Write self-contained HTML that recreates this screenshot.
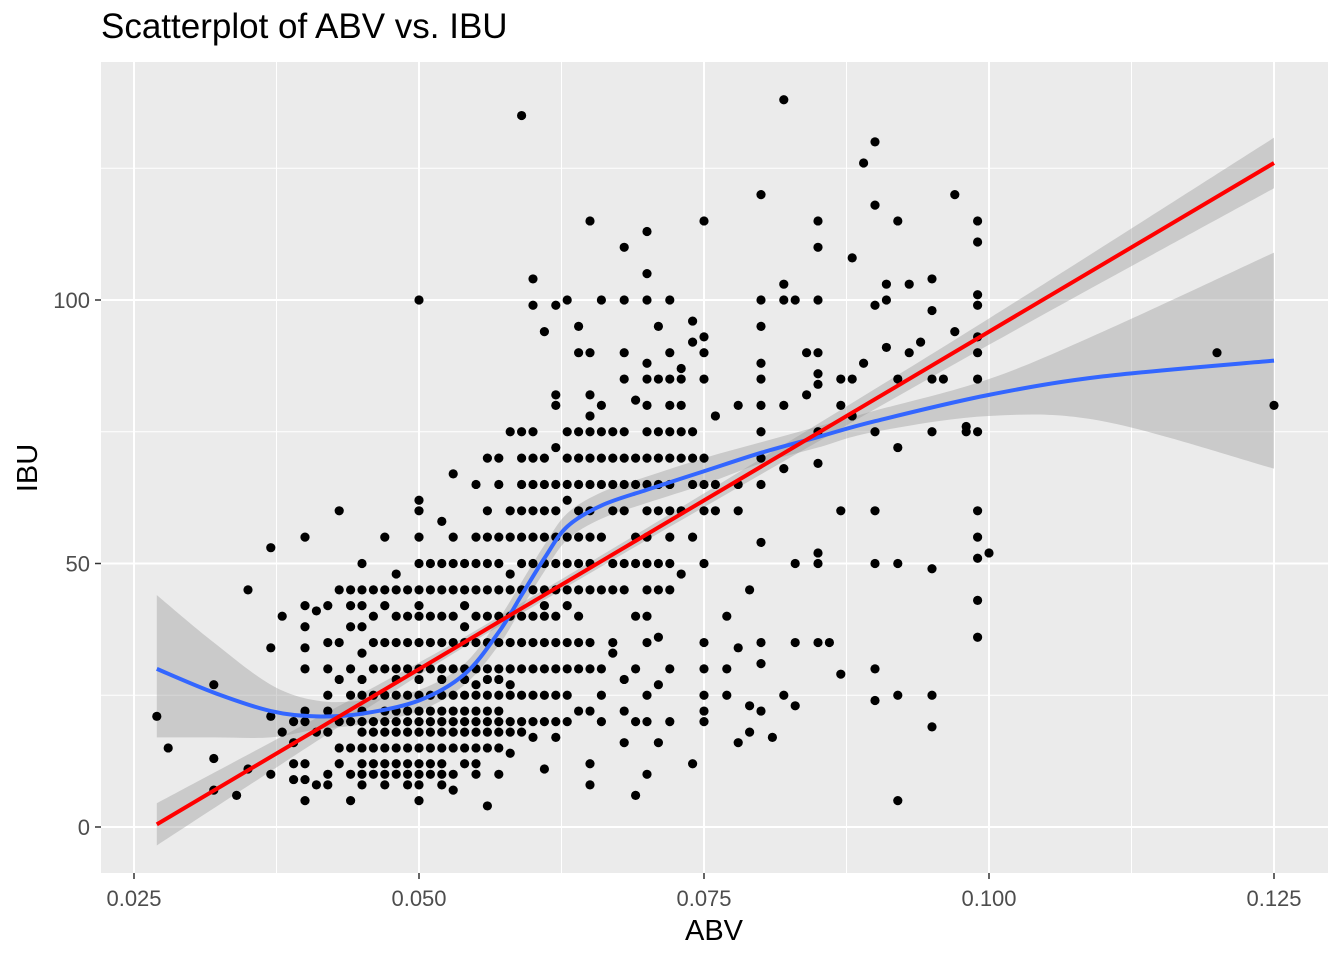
<!DOCTYPE html>
<html><head><meta charset="utf-8"><style>
body{margin:0;background:#fff;font-family:"Liberation Sans",Arial,sans-serif}
</style></head><body>
<svg id="chart" width="1344" height="960" xmlns="http://www.w3.org/2000/svg" font-family="Liberation Sans, Arial, sans-serif">
<rect width="1344" height="960" fill="#fff"/>
<text x="101" y="38" font-size="35" fill="#000">Scatterplot of ABV vs. IBU</text>
<rect x="101" y="62" width="1227" height="811" fill="#ebebeb"/>
<g id="grid"></g>
<g id="bands"></g>
<g id="points"></g>
<g id="lines"></g>
<g id="axes"></g>
<text x="714" y="940" font-size="29" text-anchor="middle">ABV</text>
<text transform="translate(37,468) rotate(-90)" font-size="29" text-anchor="middle">IBU</text>
</svg>
<script>
const xTicks=[0.025,0.05,0.075,0.1,0.125];
const xTickLabels=["0.025","0.050","0.075","0.100","0.125"];
const yTicks=[0,50,100];
const yTickLabels=["0","50","100"];
// columns: ABV in thousandths -> IBU values
const abvCols=[27,28,32,34,35,37,38,39,40,41,42,43,44,45,46,47,48,49,50,51,52,53,54,55,56,57,58,59,60,61,62,63,64,65,66,67,68,69,70,71,72,73,74,75,76,77,78,79,80,81,82,83,84,85,86,87,88,89,90,91,92,93,94,95,96,97,98,99,100,120,125];
const ibuCols=[
[21],[15],[27,13,7],[6],[45,11],[53,34,21,10],[40,18],[20,16,9,12],
[55,42,38,34,30,22,20,12,9,5],[41,18,8],[42,35,30,25,22,18,10,8],[60,45,35,28,20,15,12],
[45,42,38,30,25,20,15,10,5],[50,45,42,38,33,28,25,22,20,18,15,12,10,8],[45,40,35,30,25,20,18,15,12,10],
[55,45,42,35,30,25,22,20,18,15,12,10,8],[48,45,40,35,30,28,25,22,20,18,15,12,10],[45,40,35,30,25,22,20,18,15,12,10,8],
[100,62,60,55,50,45,42,40,35,30,28,25,22,20,18,15,12,10,8,5],[50,45,40,35,30,25,22,20,18,15,12,10],
[58,50,45,40,35,30,28,25,22,20,18,15,12,10,8],[67,55,50,45,40,35,30,25,22,20,18,15,10,7],
[50,45,42,38,35,30,28,25,22,20,18,15,12],[65,55,50,45,40,35,30,27,25,22,20,18,15,12,10],
[70,60,55,50,45,40,35,30,28,25,22,20,18,15,4],[70,65,55,50,45,40,35,30,28,25,22,20,18,15,10],
[75,60,55,48,45,40,35,30,27,25,20,18,14],[135,75,70,65,60,55,50,45,40,35,30,25,20,18],
[104,99,75,70,65,60,55,50,45,40,35,30,25,20,17],[94,70,65,60,55,50,45,42,40,35,30,25,20,11],
[99,82,80,72,65,60,55,50,45,40,35,30,25,20,17],[100,75,70,65,62,55,50,45,42,35,30,25,20],
[95,90,75,70,65,60,55,50,45,40,35,30,22],[115,90,82,78,75,70,65,60,55,50,45,35,30,22,12,8],
[100,80,75,70,65,55,45,30,25,20],[75,70,65,60,50,45,35,33],[110,100,90,85,75,70,65,60,50,45,28,22,16],
[81,70,65,55,50,40,30,20,6],[113,105,100,88,85,80,75,70,65,60,55,50,45,40,35,25,20,10],
[95,85,75,70,65,60,50,45,36,27,16],[100,90,85,80,75,70,65,60,55,50,45,30,20],[87,85,80,75,70,60,48],
[96,92,75,70,65,55,12],[115,93,90,85,70,65,60,50,35,30,25,22,20],[78,65,60],[40,30,25],[80,65,60,34,16],
[45,23,18],[120,100,95,88,85,80,75,70,65,54,35,31,22],[17],[138,103,100,80,68,25],[100,50,35,23],[90,82],
[115,110,100,90,86,84,75,69,52,50,35],[35],[85,80,60,29],[108,85,78],[126,88],[130,118,99,75,60,50,30,24],
[103,100,91],[115,85,72,50,25,5],[103,90],[92],[104,98,85,75,49,25,19],[85],[120,94],[76,75],
[115,111,101,99,93,90,85,75,60,55,51,43,36],[52],[90],[80]];
const loessX=[0.027,0.032,0.037,0.041,0.045,0.05,0.054,0.057,0.059,0.061,0.063,0.066,0.07,0.075,0.08,0.085,0.09,0.1,0.11,0.125];
const loessY=[30,25.5,22,21,21.5,24,29,37,44,51,57,61,64,67.5,71,74,77,82,85.5,88.5];
const loessHi=[44,35,27,24,24,26,31,39.5,46.5,53.5,59.5,63.5,66.5,70,73,76,79,85,94,109];
const loessLo=[17,17,17,18.5,19.5,22,27,34.5,41.5,48.5,54.5,58.5,61.5,65,69,72,75,78,77,68];
const linX=[0.027,0.05,0.06,0.075,0.1,0.125];
const linY=[0.5,30,42.8,62,94,126];
const linHi=[4.5,31.2,43.8,63.3,96.5,130.8];
const linLo=[-3.5,28.8,41.8,60.7,91.5,121.2];

const X=v=>134+(v-0.025)*11400;
const Y=v=>827-v*5.27;
const NS="http://www.w3.org/2000/svg";
function mk(tag,attrs,parent){const e=document.createElementNS(NS,tag);for(const k in attrs)e.setAttribute(k,attrs[k]);parent.appendChild(e);return e;}
const grid=document.getElementById('grid');
for(let i=0;i<xTicks.length;i++){
 const x=X(xTicks[i]);
 const g=mk('line',{x1:x,x2:x,y1:62,y2:873,stroke:'#fff','stroke-width':2},grid);
 
 if(i<xTicks.length-1){const xm=X(xTicks[i]+0.0125);
 const m=mk('line',{x1:xm,x2:xm,y1:62,y2:873,stroke:'#fff','stroke-width':1},grid);
 }
}
[-25,25,75,125].forEach(v=>{const y=Y(v);if(y<62||y>873)return;
 const m=mk('line',{x1:101,x2:1328,y1:y,y2:y,stroke:'#fff','stroke-width':1},grid);
 });
yTicks.forEach(v=>{const y=Y(v);
 const g=mk('line',{x1:101,x2:1328,y1:y,y2:y,stroke:'#fff','stroke-width':2},grid);
 });
const axes=document.getElementById('axes');
xTicks.forEach((v,i)=>{const x=X(v);
 const t=mk('line',{x1:x,x2:x,y1:873,y2:879,stroke:'#333','stroke-width':1.5},axes);
 
 const l=mk('text',{x:x,y:906,'font-size':22,fill:'#4d4d4d','text-anchor':'middle'},axes);l.textContent=xTickLabels[i];
 });
yTicks.forEach((v,i)=>{const y=Y(v);
 const t=mk('line',{x1:95,x2:101,y1:y,y2:y,stroke:'#333','stroke-width':1.5},axes);
 
 const l=mk('text',{x:90,y:y+8,'font-size':22,fill:'#4d4d4d','text-anchor':'end'},axes);l.textContent=yTickLabels[i];
 });
function smoothPts(P){let d='';
 for(let i=0;i<P.length-1;i++){const p0=P[i-1]||P[i],p1=P[i],p2=P[i+1],p3=P[i+2]||P[i+1];
 d+=` C${p1[0]+(p2[0]-p0[0])/6},${p1[1]+(p2[1]-p0[1])/6} ${p2[0]-(p3[0]-p1[0])/6},${p2[1]-(p3[1]-p1[1])/6} ${p2[0]},${p2[1]}`;}
 return d;}
function band(xs,hi,lo,name){
 const top=xs.map((x,i)=>[X(x),Y(hi[i])]);
 const bot=xs.map((x,i)=>[X(x),Y(lo[i])]).reverse();
 let d='M'+top[0].join(',')+smoothPts(top)+' L'+bot[0].join(',')+smoothPts(bot)+' Z';
 const p=mk('path',{d:d,fill:'#999','fill-opacity':0.4},document.getElementById('bands'));
 }
function smooth(xs,ys){const P=xs.map((x,i)=>[X(x),Y(ys[i])]);return 'M'+P[0].join(',')+smoothPts(P);}
band(loessX,loessHi,loessLo,'loess-confidence-band');
band(linX,linHi,linLo,'linear-confidence-band');
const pts=document.getElementById('points');
abvCols.forEach((a,i)=>ibuCols[i].forEach(b=>{
 const c=mk('circle',{cx:X(a/1000),cy:Y(b),r:4.6,fill:'#000'},pts);
 }));
const lines=document.getElementById('lines');
const bl=mk('path',{d:smooth(loessX,loessY),fill:'none',stroke:'#3366ff','stroke-width':4},lines);

const rl=mk('line',{x1:X(linX[0]),y1:Y(linY[0]),x2:X(linX[linX.length-1]),y2:Y(linY[linY.length-1]),stroke:'#ff0000','stroke-width':4},lines);

</script>
</body></html>
